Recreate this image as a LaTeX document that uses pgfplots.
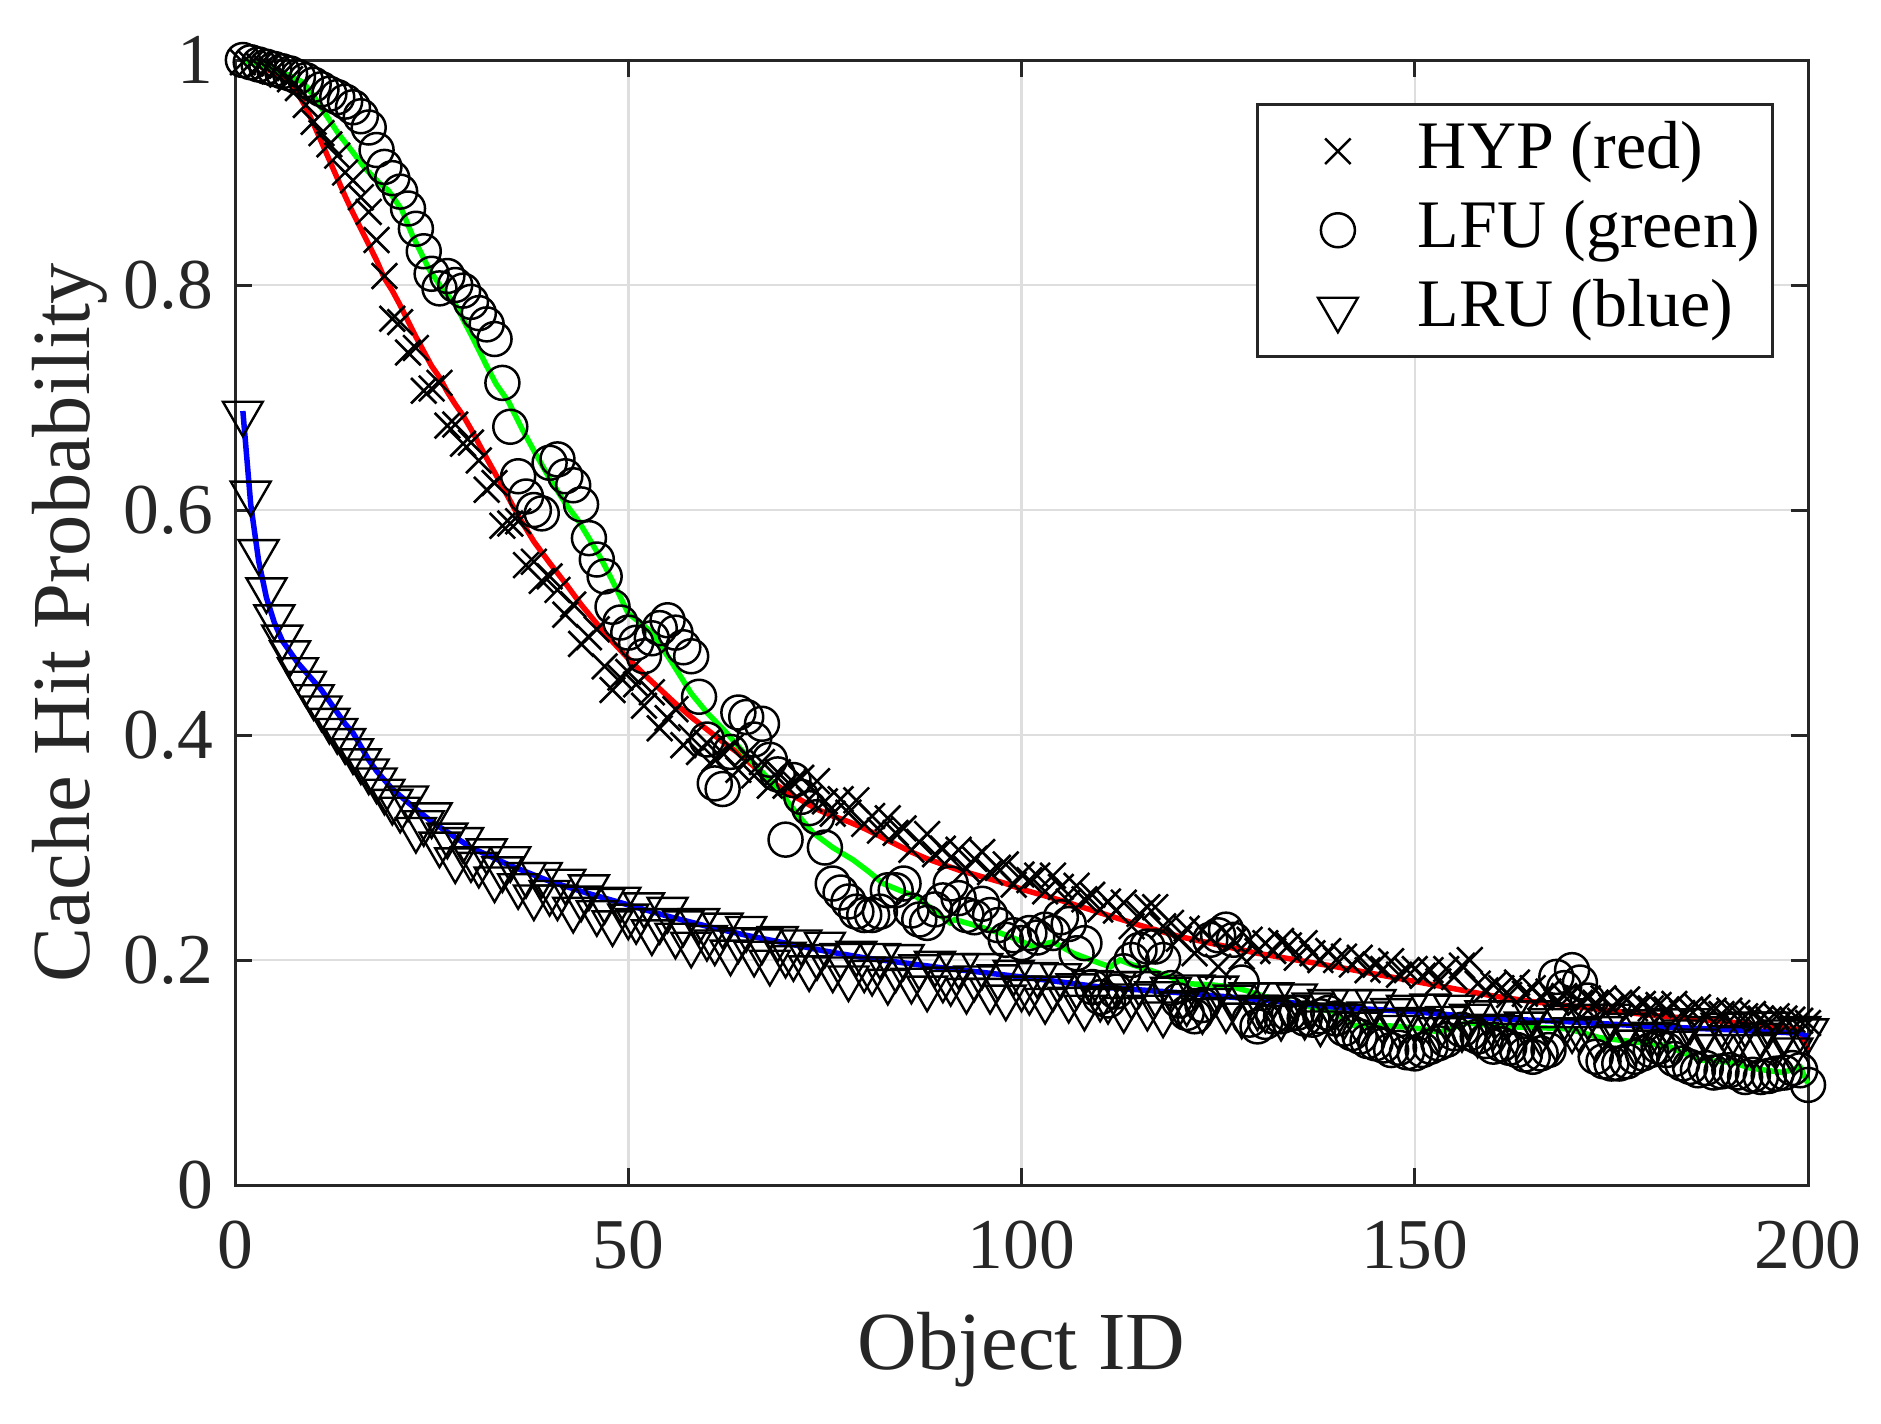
\documentclass[border=0pt]{standalone}
\usepackage{fontspec}
\setmainfont{Liberation Serif}
\usepackage{pgfplots}
\usepackage{pgfplotstable}
\pgfplotsset{compat=1.18}
\definecolor{mgreen}{RGB}{0,255,0}
\definecolor{axgray}{RGB}{38,38,38}
\pgfplotsset{mylegimg/.style={legend image code/.code={\draw[draw=none,#1] plot coordinates {(14.3pt,0pt)}; \path (0pt,0pt) (29pt,0pt);}}}

\pgfplotstableread{
x y
1 0.998
2 0.997
3 0.995
4 0.993
5 0.990
6 0.987
7 0.983
8 0.975
9 0.960
10 0.945
11 0.935
12 0.925
13 0.915
14 0.900
15 0.893
16 0.878
17 0.865
18 0.840
19 0.808
20 0.770
21 0.767
22 0.740
23 0.744
24 0.706
25 0.708
26 0.713
27 0.675
28 0.676
29 0.659
30 0.660
31 0.644
32 0.618
33 0.624
34 0.586
35 0.588
36 0.590
37 0.551
38 0.554
39 0.537
40 0.541
41 0.529
42 0.507
43 0.516
44 0.481
45 0.487
46 0.494
47 0.461
48 0.440
49 0.451
50 0.456
51 0.445
52 0.426
53 0.438
54 0.406
55 0.415
56 0.423
57 0.391
58 0.398
59 0.385
60 0.393
61 0.379
62 0.384
63 0.389
64 0.369
65 0.383
66 0.364
67 0.376
68 0.355
69 0.367
70 0.355
71 0.358
72 0.362
73 0.343
74 0.359
75 0.341
76 0.330
77 0.343
78 0.331
79 0.342
80 0.321
81 0.328
82 0.315
83 0.326
84 0.313
85 0.317
86 0.298
87 0.305
88 0.312
89 0.294
90 0.299
91 0.291
92 0.298
93 0.281
94 0.290
95 0.296
96 0.278
97 0.282
98 0.285
99 0.267
100 0.276
101 0.271
102 0.275
103 0.261
104 0.275
105 0.265
106 0.252
107 0.266
108 0.254
109 0.258
110 0.245
111 0.252
112 0.244
113 0.251
114 0.230
115 0.241
116 0.247
117 0.247
118 0.230
119 0.233
120 0.219
121 0.228
122 0.206
123 0.227
124 0.219
125 0.194
126 0.224
127 0.217
128 0.203
129 0.218
130 0.208
131 0.215
132 0.208
133 0.217
134 0.213
135 0.202
136 0.215
137 0.206
138 0.200
139 0.208
140 0.200
141 0.203
142 0.196
143 0.202
144 0.191
145 0.196
146 0.192
147 0.199
148 0.187
149 0.191
150 0.192
151 0.186
152 0.191
153 0.181
154 0.192
155 0.185
156 0.195
157 0.200
158 0.179
159 0.173
160 0.178
161 0.175
162 0.169
163 0.180
164 0.170
165 0.175
166 0.167
167 0.172
168 0.163
169 0.168
170 0.170
171 0.162
172 0.166
173 0.162
174 0.166
175 0.158
176 0.162
177 0.165
178 0.157
179 0.161
180 0.157
181 0.160
182 0.156
183 0.161
184 0.153
185 0.156
186 0.158
187 0.152
188 0.155
189 0.152
190 0.155
191 0.153
192 0.150
193 0.152
194 0.148
195 0.147
196 0.150
197 0.148
198 0.147
199 0.146
200 0.144
}\hyp

\pgfplotstableread{
x y
1 1.000
2 0.998
3 0.996
4 0.994
5 0.992
6 0.990
7 0.988
8 0.985
9 0.982
10 0.978
11 0.974
12 0.970
13 0.967
14 0.963
15 0.958
16 0.950
17 0.940
18 0.920
19 0.905
20 0.895
21 0.883
22 0.868
23 0.850
24 0.830
25 0.810
26 0.797
27 0.808
28 0.800
29 0.795
30 0.785
31 0.775
32 0.765
33 0.752
34 0.713
35 0.674
36 0.630
37 0.612
38 0.600
39 0.597
40 0.642
41 0.645
42 0.630
43 0.622
44 0.605
45 0.575
46 0.556
47 0.541
48 0.514
49 0.500
50 0.491
51 0.482
52 0.470
53 0.486
54 0.495
55 0.502
56 0.491
57 0.478
58 0.470
59 0.434
60 0.396
61 0.357
62 0.352
63 0.385
64 0.420
65 0.416
66 0.396
67 0.410
68 0.378
69 0.365
70 0.307
71 0.360
72 0.345
73 0.335
74 0.327
75 0.300
76 0.268
77 0.260
78 0.252
79 0.243
80 0.240
81 0.240
82 0.243
83 0.262
84 0.262
85 0.268
86 0.244
87 0.236
88 0.233
89 0.245
90 0.253
91 0.268
92 0.255
93 0.240
94 0.238
95 0.250
96 0.240
97 0.231
98 0.218
99 0.222
100 0.215
101 0.224
102 0.220
103 0.227
104 0.224
105 0.238
106 0.232
107 0.206
108 0.215
109 0.176
110 0.167
111 0.164
112 0.172
113 0.190
114 0.200
115 0.209
116 0.212
117 0.212
118 0.200
119 0.175
120 0.164
121 0.153
122 0.150
123 0.160
124 0.218
125 0.222
126 0.227
127 0.218
128 0.180
129 0.147
130 0.141
131 0.145
132 0.150
133 0.150
134 0.152
135 0.153
136 0.148
137 0.147
138 0.150
139 0.153
140 0.148
141 0.139
142 0.135
143 0.132
144 0.128
145 0.126
146 0.124
147 0.120
148 0.122
149 0.118
150 0.117
151 0.120
152 0.123
153 0.126
154 0.129
155 0.135
156 0.138
157 0.135
158 0.132
159 0.128
160 0.123
161 0.125
162 0.122
163 0.120
164 0.116
165 0.114
166 0.117
167 0.120
168 0.185
169 0.175
170 0.191
171 0.180
172 0.164
173 0.114
174 0.110
175 0.108
176 0.108
177 0.110
178 0.114
179 0.117
180 0.120
181 0.123
182 0.120
183 0.112
184 0.108
185 0.105
186 0.102
187 0.104
188 0.100
189 0.101
190 0.102
191 0.100
192 0.096
193 0.098
194 0.096
195 0.097
196 0.099
197 0.100
198 0.104
199 0.102
200 0.089
}\lfu

\pgfplotstableread{
x y
1 0.686
2 0.615
3 0.563
4 0.529
5 0.505
6 0.487
7 0.473
8 0.458
9 0.446
10 0.434
11 0.424
12 0.413
13 0.404
14 0.395
15 0.386
16 0.377
17 0.368
18 0.360
19 0.350
20 0.341
21 0.334
22 0.344
23 0.316
24 0.322
25 0.329
26 0.303
27 0.311
28 0.289
29 0.307
30 0.290
31 0.285
32 0.297
33 0.272
34 0.281
35 0.290
36 0.266
37 0.276
38 0.256
39 0.276
40 0.260
41 0.256
42 0.270
43 0.245
44 0.255
45 0.265
46 0.242
47 0.253
48 0.233
49 0.254
50 0.239
51 0.235
52 0.249
53 0.225
54 0.235
55 0.245
56 0.222
57 0.233
58 0.214
59 0.235
60 0.220
61 0.216
62 0.231
63 0.207
64 0.218
65 0.228
66 0.206
67 0.217
68 0.198
69 0.219
70 0.205
71 0.202
72 0.216
73 0.193
74 0.203
75 0.214
76 0.192
77 0.204
78 0.184
79 0.206
80 0.192
81 0.189
82 0.204
83 0.181
84 0.192
85 0.203
86 0.182
87 0.194
88 0.175
89 0.197
90 0.183
91 0.180
92 0.195
93 0.173
94 0.184
95 0.195
96 0.173
97 0.185
98 0.167
99 0.189
100 0.175
101 0.172
102 0.187
103 0.164
104 0.175
105 0.186
106 0.165
107 0.177
108 0.158
109 0.180
110 0.166
111 0.164
112 0.179
113 0.156
114 0.168
115 0.179
116 0.158
117 0.170
118 0.152
119 0.174
120 0.161
121 0.162
122 0.176
123 0.155
124 0.164
125 0.175
126 0.156
127 0.167
128 0.151
129 0.169
130 0.158
131 0.156
132 0.169
133 0.149
134 0.158
135 0.168
136 0.150
137 0.160
138 0.144
139 0.163
140 0.151
141 0.150
142 0.163
143 0.143
144 0.152
145 0.163
146 0.145
147 0.155
148 0.140
149 0.158
150 0.147
151 0.145
152 0.159
153 0.138
154 0.148
155 0.158
156 0.139
157 0.150
158 0.134
159 0.153
160 0.141
161 0.140
162 0.153
163 0.133
164 0.143
165 0.153
166 0.135
167 0.146
168 0.130
169 0.149
170 0.138
171 0.137
172 0.150
173 0.130
174 0.139
175 0.150
176 0.132
177 0.142
178 0.127
179 0.145
180 0.134
181 0.133
182 0.146
183 0.126
184 0.136
185 0.146
186 0.128
187 0.139
188 0.123
189 0.142
190 0.131
191 0.130
192 0.143
193 0.123
194 0.133
195 0.143
196 0.125
197 0.136
198 0.120
199 0.139
200 0.137
}\lru

\begin{document}
\begin{tikzpicture}
\begin{axis}[
  scale only axis, width=314.6pt, height=225pt,
  xmin=0, xmax=200, ymin=0, ymax=1,
  xtick={0,50,100,150,200}, ytick={0,0.2,0.4,0.6,0.8,1},
  tick align=inside, major tick length=3.4pt,
  grid=major, grid style={line width=0.5pt, color=black!13},
  axis line style={line width=0.6pt, color=axgray},
  tick style={line width=0.6pt, color=axgray},
  /pgf/number format/assume math mode=true,
  tick label style={font=\fontsize{14.3}{17}\selectfont, color=axgray},
  xticklabel style={yshift=-3.6pt},
  yticklabel style={xshift=-0.8pt},
  xlabel={Object ID}, ylabel={Cache Hit Probability},
  label style={font=\fontsize{16.5}{20}\selectfont, color=axgray},
  xlabel style={at={(axis description cs:0.5,-0.1644)}, anchor=base},
  ylabel style={at={(axis description cs:-0.0928,0.5)}, anchor=base},
  clip=false,
  legend cell align=left,
  legend style={at={(axis description cs:0.649,0.962)}, anchor=north west,
    draw=axgray, line width=0.6pt, inner sep=1.5pt, row sep=0pt,
    font=\fontsize{13.6}{16}\selectfont,
    nodes={inner sep=1pt, text height=10.3pt, text depth=3.5pt}},
]
\addplot[only marks, mark=x, mark size=3.6pt, mark options={line width=0.52pt, draw=black}, mylegimg] table[x=x,y=y] {\hyp};
\addlegendentry{HYP (red)}
\addplot[only marks, mark=o, mark size=3.4pt, mark options={line width=0.5pt, draw=black}, mylegimg] table[x=x,y=y] {\lfu};
\addlegendentry{LFU (green)}
\addplot[only marks, mark=triangle, mark size=4.6pt, mark options={line width=0.48pt, draw=black, rotate=180}, mylegimg] table[x=x,y=y] {\lru};
\addlegendentry{LRU (blue)}

\addplot[forget plot, red, line width=1.1pt] coordinates {
(1,1.000)(2,0.998)(3,0.995)(4,0.992)(5,0.989)(6,0.986)(7,0.980)(8,0.970)(9,0.958)(10,0.943)(11,0.927)(12,0.911)(13,0.895)(14,0.879)(15,0.864)(16,0.850)(17,0.836)(18,0.822)(19,0.806)(20,0.795)(21,0.782)(22,0.768)(23,0.754)(24,0.741)(25,0.728)(26,0.718)(27,0.705)(28,0.694)(29,0.684)(30,0.672)(32,0.646)(34,0.621)(36,0.595)(38,0.572)(40,0.553)(42,0.535)(44,0.516)(46,0.499)(48,0.483)(50,0.468)(52,0.454)(54,0.441)(56,0.428)(58,0.416)(60,0.405)(62,0.394)(64,0.384)(66,0.372)(68,0.360)(70,0.350)(72,0.342)(74,0.334)(76,0.328)(78,0.323)(80,0.317)(82,0.310)(84,0.303)(86,0.296)(88,0.290)(90,0.285)(92,0.280)(94,0.276)(96,0.272)(98,0.268)(100,0.263)(105,0.253)(110,0.242)(115,0.231)(120,0.221)(125,0.2135)(130,0.206)(135,0.200)(140,0.194)(145,0.1875)(150,0.181)(155,0.1745)(160,0.168)(165,0.163)(170,0.159)(175,0.155)(180,0.151)(185,0.148)(190,0.145)(195,0.141)(199,0.138)(200,0.120)};
\addplot[forget plot, color=mgreen, line width=1.1pt] coordinates {
(1,1.000)(3,0.996)(5,0.992)(7,0.986)(8.7,0.980)(10,0.968)(11.5,0.952)(13.2,0.934)(15,0.918)(16.5,0.904)(18.3,0.891)(19.5,0.884)(21.2,0.867)(22.5,0.845)(24.6,0.815)(26.3,0.797)(28,0.783)(30.3,0.752)(32,0.728)(33.2,0.712)(34.8,0.696)(36.5,0.672)(38.3,0.649)(40,0.628)(42,0.606)(43.6,0.591)(45,0.575)(46.6,0.556)(48.5,0.530)(50,0.508)(51.5,0.500)(53,0.491)(55.5,0.465)(58,0.437)(60,0.420)(62.5,0.402)(63.6,0.393)(65.5,0.378)(67.6,0.363)(69.8,0.345)(71.8,0.327)(73.5,0.313)(76,0.300)(78.6,0.289)(80.5,0.279)(82.4,0.268)(84.5,0.262)(86.7,0.256)(88.5,0.246)(90.9,0.233)(91.5,0.236)(94,0.231)(97.3,0.224)(99.5,0.218)(101.5,0.212)(104,0.216)(106.6,0.206)(108.5,0.201)(110,0.197)(111.3,0.194)(112.5,0.200)(114,0.196)(116.3,0.191)(118.5,0.186)(121,0.179)(124,0.178)(126.9,0.176)(129,0.172)(131.2,0.167)(135,0.161)(139.6,0.154)(142.1,0.142)(145,0.142)(148.1,0.141)(150.5,0.139)(153.2,0.136)(156.6,0.144)(160.8,0.141)(165,0.140)(169.3,0.139)(171,0.136)(173.5,0.131)(177,0.128)(182,0.124)(184,0.118)(186.3,0.111)(190.5,0.109)(192.6,0.104)(196.8,0.100)(199,0.105)(200,0.090)};
\addplot[forget plot, blue, line width=1.1pt] coordinates {
(1,0.688)(2,0.605)(3,0.555)(4,0.522)(5,0.500)(6,0.484)(7,0.474)(8,0.464)(9,0.456)(10,0.448)(11,0.440)(12,0.430)(13,0.420)(14,0.410)(15,0.402)(16,0.390)(17,0.378)(18,0.368)(19,0.360)(20,0.352)(22,0.340)(25,0.323)(30,0.300)(35,0.284)(40,0.270)(45,0.259)(50,0.249)(55,0.239)(60,0.230)(65,0.222)(70,0.215)(75,0.208)(80,0.202)(90,0.193)(100,0.185)(110,0.176)(120,0.171)(130,0.165)(140,0.158)(150,0.154)(160,0.148)(170,0.145)(180,0.141)(190,0.138)(199,0.135)(200,0.132)};
\end{axis}
\pgfresetboundingbox
\path[use as bounding box] ([shift={(-47pt,-47.6pt)}]current axis.south west) rectangle ([shift={(14.6pt,12pt)}]current axis.north east);
\end{tikzpicture}
\end{document}
